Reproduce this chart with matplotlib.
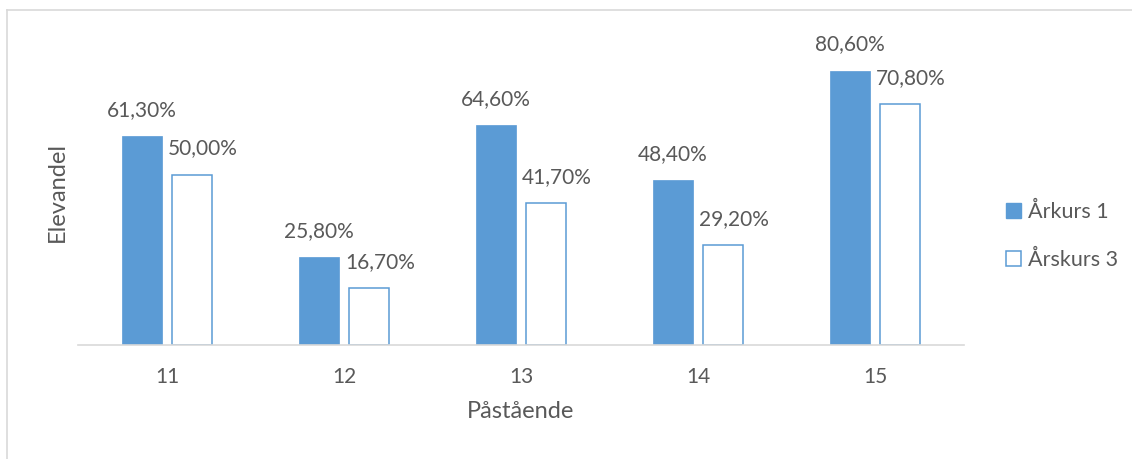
import matplotlib.pyplot as plt
from matplotlib.patches import Patch
from matplotlib.lines import Line2D
import numpy as np

# Andel elever som instämmer, per påstående och årskurs
statements = ["11", "12", "13", "14", "15"]
year1 = [61.3, 25.8, 64.6, 48.4, 80.6]
year3 = [50.0, 16.7, 41.7, 29.2, 70.8]
series_names = ["Årkurs 1", "Årskurs 3"]

BLUE = "#5B9BD5"
TEXT = "#595959"
GRID = "#D9D9D9"

plt.rcParams["font.family"] = ["Lato", "DejaVu Sans"]

fig = plt.figure(figsize=(11.32, 4.59), dpi=100)
W, H = 1132, 459

# axes placed in pixel terms: baseline at y=344.5, category pitch 177 px
ax_left, ax_right = 78.5, 963.5
ax_bottom, ax_top = 344.5, 344.5 - 90 * 3.397
ax = fig.add_axes([ax_left / W, (H - ax_bottom) / H,
                   (ax_right - ax_left) / W, (ax_bottom - ax_top) / H])

x = np.arange(len(statements))
width = 0.226
offset = 0.141

b1 = ax.bar(x - offset, year1, width, color=BLUE, edgecolor=BLUE, linewidth=0.5)
b2 = ax.bar(x + offset, year3, width, color="white", edgecolor=BLUE, linewidth=1.1)

def fmt(v):
    return f"{v:.2f}%".replace(".", ",")

for rect, v in zip(b1, year1):
    ax.annotate(fmt(v), (rect.get_x() + rect.get_width() / 2, v),
                xytext=(0, 14.5), textcoords="offset points",
                ha="center", va="baseline", fontsize=15, color=TEXT)
for rect, v in zip(b2, year3):
    ax.annotate(fmt(v), (rect.get_x() + rect.get_width() / 2, v),
                xytext=(8, 14.5), textcoords="offset points",
                ha="center", va="baseline", fontsize=15, color=TEXT)

ax.set_xlim(-0.5, len(statements) - 0.5)
ax.set_ylim(0, 90)
ax.set_xticks(x)
ax.set_xticklabels(statements, fontsize=15, color=TEXT)
ax.tick_params(axis="x", length=0, pad=16)
ax.set_yticks([])
for side in ["top", "right", "left"]:
    ax.spines[side].set_visible(False)
ax.spines["bottom"].set_color(GRID)
ax.spines["bottom"].set_linewidth(1.2)

# axis titles
fig.text(520.5 / W, 1 - 412 / H, "Påstående", fontsize=17, color=TEXT,
         ha="center", va="center")
fig.text(57.5 / W, 1 - 191.5 / H, "Elevandel", fontsize=17, color=TEXT,
         ha="center", va="center", rotation=90)

handles = [Patch(facecolor=BLUE, edgecolor=BLUE),
           Patch(facecolor="white", edgecolor=BLUE, linewidth=1.1)]
leg = fig.legend(handles, series_names, loc="center left",
                 bbox_to_anchor=(987 / W, 1 - 236 / H), frameon=False,
                 fontsize=15.5, handlelength=0.7, handleheight=0.7,
                 handletextpad=0.3, labelspacing=1.3)
for t in leg.get_texts():
    t.set_color(TEXT)

# thin frame around the chart area
fig.add_artist(Line2D([7 / W, 1], [1 - 10 / H, 1 - 10 / H], transform=fig.transFigure,
                      color=GRID, linewidth=1.2))
fig.add_artist(Line2D([7 / W, 7 / W], [0, 1 - 10 / H], transform=fig.transFigure,
                      color=GRID, linewidth=1.2))

fig.savefig("out.png", dpi=100)
